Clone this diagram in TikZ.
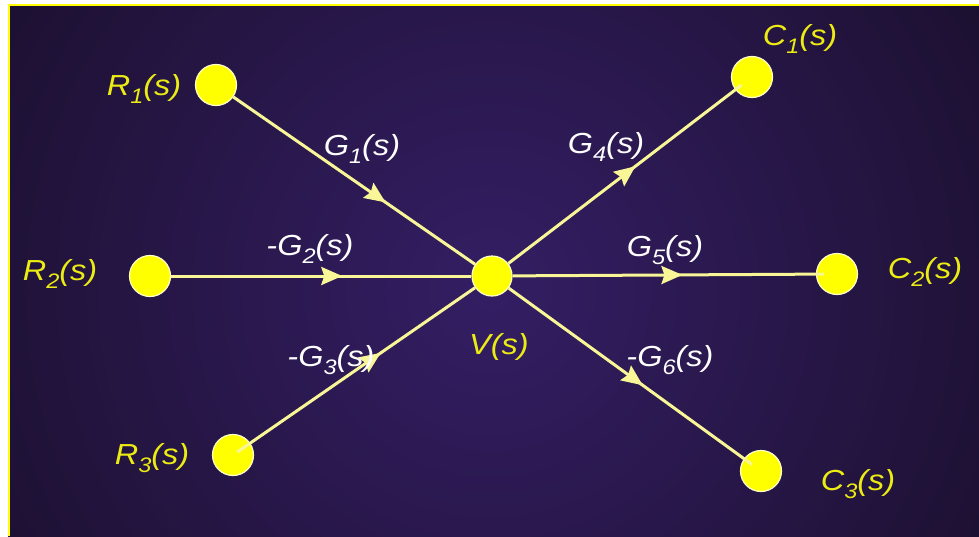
\documentclass[tikz,border=0pt]{standalone}
\usepackage{fontspec}
\setmainfont{Liberation Sans}
\newfontfamily\labfont[FakeStretch=1.12]{Liberation Sans}
\usetikzlibrary{arrows.meta,decorations.markings}
\newcommand{\sbx}[1]{\raisebox{-8pt}{\fontsize{21}{21}\selectfont #1}}
\definecolor{bgout}{RGB}{26,15,44}
\definecolor{bgin}{RGB}{52,30,100}
\definecolor{ylw}{RGB}{255,255,0}
\definecolor{lnc}{RGB}{248,246,150}
\definecolor{lbly}{RGB}{236,236,20}
\begin{document}
\begin{tikzpicture}[x=1pt,y=-1pt,
  dot/.style={circle,fill=ylw,draw=white!80!ylw,line width=1.2pt,minimum size=41pt,inner sep=0pt},
  wire/.style={draw=lnc,line width=3pt,postaction={decorate},
    decoration={markings,mark=at position #1 with {\arrow[lnc]{Stealth[length=21pt,width=18pt,inset=3pt]}}}},
  ylab/.style={text=lbly,font=\labfont\fontsize{29}{30}\selectfont\itshape,anchor=base,inner sep=0pt},
  wlab/.style={text=white,font=\labfont\fontsize{29}{30}\selectfont\itshape,anchor=base,inner sep=0pt}]
\useasboundingbox (0,0) rectangle (979,536);
\fill[white] (0,0) rectangle (979,536);
\fill[bgout] (8,4) rectangle (979,536);
\begin{scope}
  \clip (8,4) rectangle (979,536);
  \shade[inner color=bgin,outer color=bgout] (490,290) circle (620);
\end{scope}
\draw[ylw,line width=2pt] (8.5,536) -- (8.5,4.5) -- (979,4.5);

% nodes
\node[dot] (R1) at (216,85) {};
\node[dot] (R2) at (150,276) {};
\node[dot] (R3) at (233,455) {};
\node[dot,minimum size=40pt] (V) at (492,276) {};
\node[dot] (C1) at (752,77) {};
\node[dot] (C2) at (837,274) {};
\node[dot] (C3) at (761,471) {};

% connectors
\draw[wire=0.63] (R1) -- (V);
\draw[wire=0.57] (R2) -- (V);
\draw[wire=0.58,shorten <=-16pt] (R3) -- (V);
\draw[wire=0.56,shorten >=-8pt] (V) -- (C1);
\draw[wire=0.56,shorten >=-8pt] (V) -- (C2);
\draw[wire=0.57,shorten >=-10pt] (V) -- (C3);

% labels
\node[ylab] (lR1) at (144,95) {R\sbx{1}(s)};
\node[ylab] (lR2) at (60,280) {R\sbx{2}(s)};
\node[ylab] (lR3) at (152,464) {R\sbx{3}(s)};
\node[ylab] (lC1) at (800,45) {C\sbx{1}(s)};
\node[ylab] (lC2) at (925,278) {C\sbx{2}(s)};
\node[ylab] (lC3) at (858,490) {C\sbx{3}(s)};
\node[ylab] (lV) at (499,354) {V(s)};
\node[wlab] (g1) at (362,155) {G\sbx{1}(s)};
\node[wlab] (g2) at (310,255) {-G\sbx{2}(s)};
\node[wlab] (g3) at (331,366) {-G\sbx{3}(s)};
\node[wlab] (g4) at (606,153) {G\sbx{4}(s)};
\node[wlab] (g5) at (665,256) {G\sbx{5}(s)};
\node[wlab] (g6) at (670,366) {-G\sbx{6}(s)};
\end{tikzpicture}
\end{document}
